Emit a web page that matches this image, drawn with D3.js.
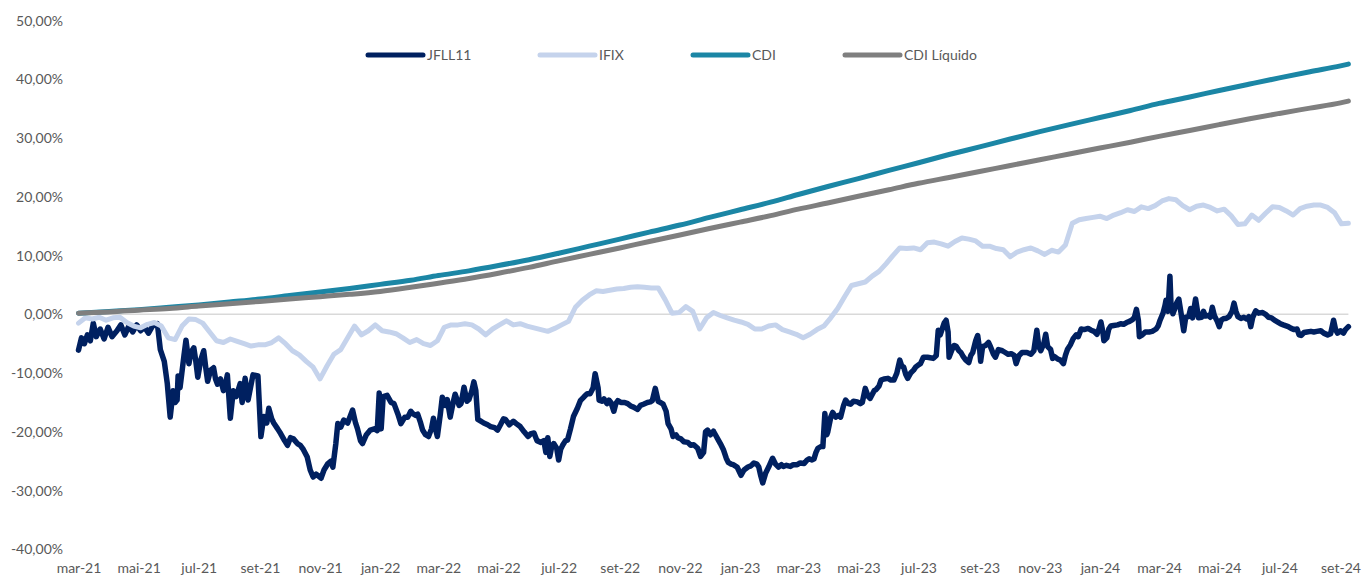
<!DOCTYPE html>
<html><head><meta charset="utf-8">
<script src="https://cdn.jsdelivr.net/npm/d3@7"></script>
<style>
body{margin:0;background:#fff;}
text{font-family:Lato,'Open Sans',sans-serif;}
</style>
</head><body>
<svg id="chart" width="1364" height="578"></svg>
<script>
// ---- DATA ----
const seriesNames = ["JFLL11", "IFIX", "CDI", "CDI Líquido"];
const startDate = "2021-03-01";
// JFLL11: observation day (days since startDate) and accumulated return (%)
const jfllDay = [
 0,3,6,9,12,15,18,22,26,30,34,39,43,47,51,55,59,63,67,71,75,80,83,87,90,93,96,98,100,101,
 103,107,109,112,114,117,119,121,124,127,129,131,134,137,139,141,144,147,149,151,154,157,160,164,166,169,172,177,182,185,
 188,191,193,196,198,202,205,209,212,215,218,222,225,228,232,235,238,241,246,249,253,256,258,261,263,266,269,273,278,281,
 283,286,288,292,296,300,303,305,307,309,313,317,320,324,327,331,334,337,339,342,344,347,349,352,355,358,360,362,364,367,
 369,372,374,377,380,382,386,388,391,394,396,399,401,403,405,408,411,415,418,422,425,428,431,433,437,441,444,448,452,456,
 459,462,465,469,472,474,476,478,480,482,485,487,489,491,494,496,499,502,506,509,513,516,519,522,524,527,528,531,533,536,
 538,540,543,545,547,550,554,557,560,563,567,570,573,577,580,582,585,588,590,593,596,598,601,603,606,608,611,614,618,621,
 624,628,631,634,636,638,641,644,646,649,651,654,657,659,662,664,668,672,675,679,682,685,688,690,692,694,697,700,704,707,
 710,713,715,718,722,725,729,732,736,739,741,744,746,748,750,753,755,757,759,760,763,765,768,771,773,776,778,781,783,786,
 790,793,795,798,801,803,807,809,812,814,817,821,824,827,830,833,835,837,839,841,844,847,849,852,854,857,861,864,867,870,
 872,874,878,880,882,883,886,888,890,893,895,897,900,903,905,907,910,912,914,915,917,920,923,925,928,930,933,937,940,943,
 946,949,951,954,957,959,962,966,969,972,974,976,979,981,983,986,988,990,993,996,999,1001,1003,1006,1009,1012,1014,1017,1020,1024,
 1027,1030,1033,1035,1037,1039,1040,1043,1045,1047,1050,1054,1057,1060,1063,1066,1069,1071,1073,1075,1076,1079,1082,1086,1089,1093,1095,1097,1100,1102,
 1103,1105,1107,1108,1110,1112,1114,1116,1118,1121,1123,1126,1128,1130,1133,1135,1136,1139,1141,1143,1146,1148,1150,1152,1155,1157,1159,1162,1164,1167,
 1170,1172,1174,1176,1179,1182,1185,1187,1189,1191,1194,1197,1201,1204,1207,1210,1213,1216,1219,1222,1227,1230,1233,1236,1238,1240,1243,1246,1250,1253,
 1256,1260,1263,1267,1270,1273,1275,1277,1280,1283,1285,1288
];
const jfllValue = [
 -6.1,-4.0,-5.0,-3.5,-4.5,-1.5,-3.8,-2.5,-4.2,-2.2,-3.8,-2.8,-1.8,-3.5,-2.0,-3.0,-1.8,-2.8,-2.2,-3.2,-2.0,-1.6,-6.0,-8.0,-11.7,-17.5,-13.0,-15.0,-14.6,-10.5,
 -12.5,-7.0,-4.4,-8.4,-6.5,-5.7,-8.0,-10.7,-7.8,-6.2,-9.0,-11.4,-9.5,-9.1,-11.0,-11.9,-11.0,-13.0,-12.0,-10.3,-17.7,-13.0,-14.0,-11.8,-15.0,-10.9,-14.6,-10.3,-10.5,-20.8,
 -17.4,-18.5,-16.0,-17.8,-18.5,-19.5,-20.3,-21.5,-22.3,-21.0,-21.2,-22.0,-22.3,-23.0,-24.3,-26.5,-27.7,-27.2,-27.9,-26.5,-25.4,-25.0,-26.0,-22.0,-18.6,-19.2,-18.0,-18.5,-16.3,-18.5,
 -19.5,-21.5,-22.0,-20.5,-19.7,-19.5,-19.8,-13.4,-19.5,-14.0,-13.8,-15.0,-15.2,-17.0,-18.6,-17.5,-17.5,-16.5,-16.9,-17.2,-17.0,-18.5,-19.7,-20.5,-20.8,-19.5,-17.7,-19.5,-20.8,-17.0,
 -14.1,-15.5,-14.5,-17.5,-15.0,-13.6,-15.5,-15.2,-12.4,-14.8,-14.5,-13.0,-11.5,-13.0,-17.9,-18.2,-18.5,-18.8,-19.1,-19.3,-19.7,-18.8,-17.8,-17.9,-18.8,-18.2,-18.6,-19.1,-20.0,-20.8,
 -20.3,-20.2,-21.5,-21.8,-21.5,-23.5,-21.0,-24.2,-22.5,-22.0,-22.8,-24.8,-23.0,-22.3,-21.5,-21.4,-19.5,-17.4,-16.0,-14.7,-14.0,-13.5,-13.5,-12.5,-10.1,-12.5,-14.6,-14.8,-14.4,-15.2,
 -14.6,-15.0,-16.5,-15.2,-14.7,-15.0,-15.0,-15.2,-15.6,-15.8,-16.2,-15.5,-15.3,-15.0,-14.9,-14.7,-12.6,-14.8,-15.0,-15.3,-16.5,-18.6,-19.5,-20.8,-20.5,-21.0,-21.2,-21.7,-21.8,-22.3,
 -22.2,-22.8,-24.2,-23.5,-20.0,-19.7,-20.5,-19.9,-20.5,-21.4,-22.0,-23.0,-24.5,-25.2,-25.5,-25.6,-26.0,-27.4,-26.5,-26.0,-25.8,-25.3,-25.5,-26.0,-27.5,-28.7,-27.0,-26.0,-24.5,-25.5,
 -26.0,-25.6,-25.9,-25.7,-25.9,-25.6,-25.6,-25.3,-25.4,-24.8,-24.6,-24.8,-24.6,-23.5,-22.8,-22.5,-22.5,-16.9,-20.5,-20.0,-17.5,-16.7,-17.5,-17.2,-17.5,-15.5,-14.6,-15.2,-15.3,-14.8,
 -14.9,-15.2,-15.0,-12.6,-14.0,-14.3,-13.0,-12.8,-12.2,-11.2,-11.0,-10.9,-11.2,-11.2,-10.0,-7.8,-8.8,-9.0,-10.2,-10.9,-10.0,-9.5,-9.0,-8.6,-8.4,-7.3,-7.3,-7.4,-7.5,-7.0,
 -2.7,-3.5,-1.5,-1.0,-3.0,-7.3,-6.0,-5.3,-5.4,-6.2,-6.5,-7.1,-7.8,-8.2,-7.0,-6.5,-4.5,-3.6,-6.0,-8.0,-5.5,-5.3,-4.8,-5.5,-6.8,-7.3,-6.0,-6.2,-6.5,-6.8,
 -6.7,-7.0,-8.4,-7.0,-6.5,-6.5,-6.5,-6.8,-6.2,-2.7,-5.5,-6.2,-5.0,-3.4,-5.5,-6.0,-7.5,-7.2,-7.6,-7.8,-8.4,-7.0,-6.0,-5.2,-4.1,-3.5,-3.8,-2.5,-2.6,-2.4,
 -2.7,-2.9,-3.4,-2.5,-1.3,-3.0,-4.5,-4.0,-2.5,-2.0,-1.9,-1.8,-1.6,-1.7,-1.4,-1.2,-0.9,-0.5,0.85,-1.0,-3.8,-3.5,-3.0,-3.0,-2.9,-2.5,-2.0,-1.0,0.2,1.5,
 2.4,0.5,6.5,2.0,0.1,1.0,2.0,2.6,0.5,-2.8,-0.5,-0.4,1.0,-0.6,2.6,0.5,-0.6,-0.5,0.5,-0.3,-0.2,-0.5,1.2,-0.2,-1.2,-2.1,-1.0,-0.7,-0.7,-0.4,
 0.5,1.9,0.5,-0.4,-0.7,-0.5,-0.8,-0.4,-2.1,-0.5,0.6,0.2,0.3,0.0,-0.5,-0.6,-1.0,-1.3,-1.6,-1.8,-2.1,-2.4,-2.6,-2.5,-3.5,-3.6,-3.1,-3.0,-2.9,-3.0,
 -2.9,-2.8,-3.2,-3.5,-3.3,-1.0,-2.6,-3.2,-2.8,-3.2,-2.6,-2.1
];
// IFIX: weekly observations from startDate, accumulated return (%)
const ifix = [
 -1.5,-0.6,-0.8,-0.5,-1.0,-0.6,-0.5,-1.4,-2.0,-2.3,
 -1.7,-1.4,-2.0,-4.0,-4.3,-2.0,-0.8,-0.9,-1.5,-3.0,
 -4.5,-4.8,-4.2,-4.6,-5.0,-5.4,-5.2,-5.2,-4.8,-4.0,
 -5.0,-6.2,-6.9,-8.0,-9.0,-11.0,-8.8,-6.8,-6.0,-4.0,
 -2.0,-3.5,-2.8,-1.8,-2.8,-3.0,-3.3,-4.0,-4.8,-4.3,
 -5.0,-5.3,-4.5,-2.2,-1.8,-1.8,-1.6,-1.8,-2.5,-3.5,
 -2.5,-1.8,-1.1,-1.8,-1.6,-2.0,-2.3,-2.6,-2.9,-2.4,
 -1.8,-1.2,1.2,2.4,3.3,4.0,3.9,4.1,4.3,4.4,
 4.6,4.7,4.6,4.5,4.5,2.5,0.2,0.3,1.3,0.5,
 -2.5,-0.6,0.3,-0.2,-0.6,-1.0,-1.3,-1.7,-2.5,-2.5,
 -2.0,-1.8,-2.6,-3.0,-3.4,-4.0,-3.4,-2.6,-2.0,-0.6,
 1.0,3.0,4.9,5.2,5.5,6.5,7.3,8.6,10.0,11.3,
 11.2,11.3,11.0,12.2,12.3,12.0,11.6,12.4,13.0,12.8,
 12.5,11.6,11.6,11.2,11.0,9.8,10.6,11.0,11.3,10.8,
 10.2,10.9,10.6,11.8,15.5,16.1,16.3,16.5,16.7,16.3,
 16.9,17.3,17.8,17.5,18.3,18.0,18.5,19.3,19.7,19.5,
 18.5,17.8,18.4,18.6,18.2,17.6,17.9,16.8,15.3,15.4,
 16.9,16.0,17.2,18.3,18.2,17.6,16.9,18.0,18.4,18.6,
 18.6,18.2,17.3,15.4,15.5
];
// CDI / CDI Líquido: 1st of each month from startDate, plus the last day
const lastDate = "2024-09-09";
const cdi = [0.2,0.5,0.8,1.2,1.6,2.1,2.6,3.2,3.8,4.4,5.1,5.8,6.6,7.4,8.3,9.3,10.4,11.6,12.8,14.0,15.2,16.5,17.8,19.1,20.4,21.8,23.1,24.5,25.8,27.2,28.5,29.8,31.1,32.3,33.5,34.7,35.9,37.0,38.1,39.2,40.25,41.3,42.3,42.6];
const cdiLiquido = [0.2,0.4,0.7,1.0,1.4,1.8,2.2,2.6,3.0,3.4,3.9,4.6,5.3,6.1,7.0,8.0,9.1,10.2,11.3,12.4,13.5,14.6,15.7,16.8,17.9,19.0,20.1,21.2,22.3,23.3,24.3,25.3,26.3,27.3,28.3,29.3,30.3,31.3,32.3,33.3,34.2,35.1,36.0,36.3];
const yTicks = [50,40,30,20,10,0,-10,-20,-30,-40];
const xTickLabels = ["mar-21","mai-21","jul-21","set-21","nov-21","jan-22","mar-22","mai-22","jul-22","set-22","nov-22","jan-23","mar-23","mai-23","jul-23","set-23","nov-23","jan-24","mar-24","mai-24","jul-24","set-24"];

// ---- BUILD ----
const parse = d3.timeParse("%Y-%m-%d");
const start = parse(startDate);
const weekDates = ifix.map((_, i) => d3.timeDay.offset(start, 7 * i));
const monthDates = cdi.map((_, i) => i < cdi.length - 1 ? d3.timeMonth.offset(start, i) : parse(lastDate));

const colors = {"JFLL11":"#002060","IFIX":"#c5d3ec","CDI":"#1b86a5","CDI Líquido":"#7f7f7f"};
const widths = {"JFLL11":5.5,"IFIX":5,"CDI":5,"CDI Líquido":5};
const seriesData = {
  "JFLL11": jfllDay.map((d, i) => [d3.timeDay.offset(start, d), jfllValue[i]]),
  "IFIX": weekDates.map((d, i) => [d, ifix[i]]),
  "CDI": monthDates.map((d, i) => [d, cdi[i]]),
  "CDI Líquido": monthDates.map((d, i) => [d, cdiLiquido[i]])
};

const svg = d3.select("#chart");
const x = d3.scaleTime().domain([parse("2021-03-01"), parse("2024-09-01")]).range([78.5, 1340.5]);
const y = d3.scaleLinear().domain([-40, 50]).range([549.3, 20.6]);

// zero gridline
svg.append("line")
  .attr("x1", x(start)).attr("x2", x(parse(lastDate)))
  .attr("y1", y(0)).attr("y2", y(0))
  .attr("stroke", "#d9d9d9").attr("stroke-width", 1.5);

// axes
const fmtY = d => d.toFixed(2).replace(".", ",") + "%";
const yAxis = svg.append("g").attr("transform", "translate(78,0)")
  .call(d3.axisLeft(y).tickValues(yTicks).tickSize(0).tickPadding(15).tickFormat(fmtY));
const tickDates = d3.timeMonth.range(parse("2021-03-01"), parse("2024-09-02"), 2);
const xAxis = svg.append("g").attr("transform", `translate(0,${y(-40)})`)
  .call(d3.axisBottom(x).tickValues(tickDates).tickSize(0).tickPadding(14)
    .tickFormat((d, i) => xTickLabels[i]));
[yAxis, xAxis].forEach(g => {
  g.select(".domain").remove();
  g.selectAll("text").attr("fill", "#595959").style("font-size", "14px")
    .style("font-family", "Lato,'Open Sans',sans-serif");
});

// lines
const line = d3.line().x(d => x(d[0])).y(d => y(d[1]));
const smooth = d3.line().x(d => x(d[0])).y(d => y(d[1])).curve(d3.curveMonotoneX);
seriesNames.forEach(name => {
  svg.append("path")
    .datum(seriesData[name])
    .attr("d", (name === "CDI" || name === "CDI Líquido") ? smooth : line)
    .attr("fill", "none")
    .attr("stroke", colors[name])
    .attr("stroke-width", widths[name])
    .attr("stroke-linejoin", "round")
    .attr("stroke-linecap", "round");
});

// legend
const legendX = [368, 540, 693, 845];
const lg = svg.append("g");
seriesNames.forEach((name, i) => {
  lg.append("line").attr("x1", legendX[i]).attr("x2", legendX[i] + 55)
    .attr("y1", 55).attr("y2", 55)
    .attr("stroke", colors[name]).attr("stroke-width", 5).attr("stroke-linecap", "round");
  lg.append("text").attr("x", legendX[i] + 59).attr("y", 55).attr("dy", "0.35em")
    .attr("fill", "#595959").style("font-size", "14px").text(name);
});
</script>
</body></html>
